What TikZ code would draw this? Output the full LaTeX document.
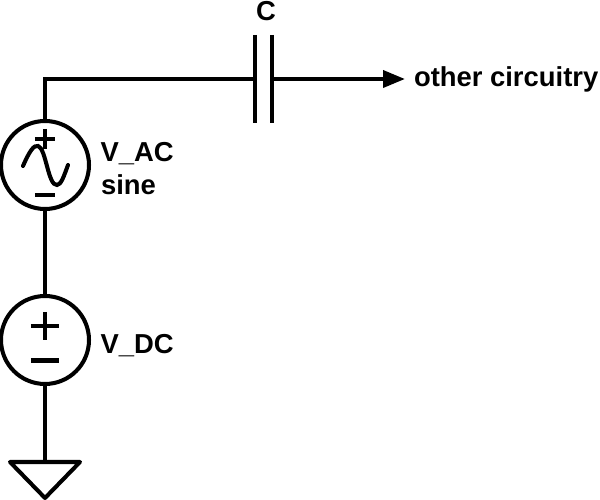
\documentclass[tikz,border=0pt]{standalone}
\usepackage{fontspec}
\setmainfont{Liberation Sans}
\usepackage{xcolor}
\usetikzlibrary{arrows.meta}

\begin{document}
\begin{tikzpicture}[x=0.02cm,y=-0.02cm,line width=2.3pt]
      % Definición de estilos
      \tikzstyle{fuente}=[draw, circle, inner sep=0pt, outer sep=0pt, minimum size=1.76cm]
      \tikzstyle{etiqueta}=[font=\fontsize{15.6}{18}\selectfont\bfseries, inner sep=0pt, anchor=base west]
      \useasboundingbox (0,0) rectangle (600,500);

      % Fuentes
      \node[fuente] (vac) at (45,165) {};
      \node[fuente] (vdc) at (45,340) {};

      % Puntos del circuito
      \coordinate (esquina) at (45,79);
      \coordinate (placaizq) at (255,79);
      \coordinate (placader) at (272,79);
      \coordinate (flecha) at (405,79);
      \coordinate (tierra) at (45,462);

      % Conexiones
      \draw (vac) -- (esquina) -- (placaizq);
      \draw[-{Triangle[length=12.5pt,width=9.6pt]}] (placader) -- (flecha);
      \draw (vac) -- (vdc);
      \draw (vdc) -- (tierra);

      % Capacitor
      \draw (255,35) -- (255,123);
      \draw (272,35) -- (272,123);

      % Tierra
      \draw[line join=round] (10,462) -- (80,462) -- (45,498) -- cycle;

      % Signos y seno
      \draw[line width=1.9pt] (35,139) -- (55,139) (45,129) -- (45,149);
      \draw[line width=1.9pt] (35,195) -- (55,195);
      \draw[line cap=round] (23,166) .. controls (30,150) and (34,145) .. (38,146) .. controls (46,148) and (48,186) .. (57,185) .. controls (61,185) and (64,176) .. (68,165);
      \draw (31,326) -- (59,326) (45,312) -- (45,340);
      \draw (31,360.5) -- (59,360.5);

      % Etiquetas
      \node[etiqueta] (lc) at (254,20.5) {C};
      \node[etiqueta] (salida) at (412,87) {other circuitry};
      \node[etiqueta] (lvac) at (98.5,162) {V\_AC};
      \node[etiqueta] (lsine) at (99,195) {sine};
      \node[etiqueta] (lvdc) at (98.5,354) {V\_DC};
    \end{tikzpicture}
\end{document}
